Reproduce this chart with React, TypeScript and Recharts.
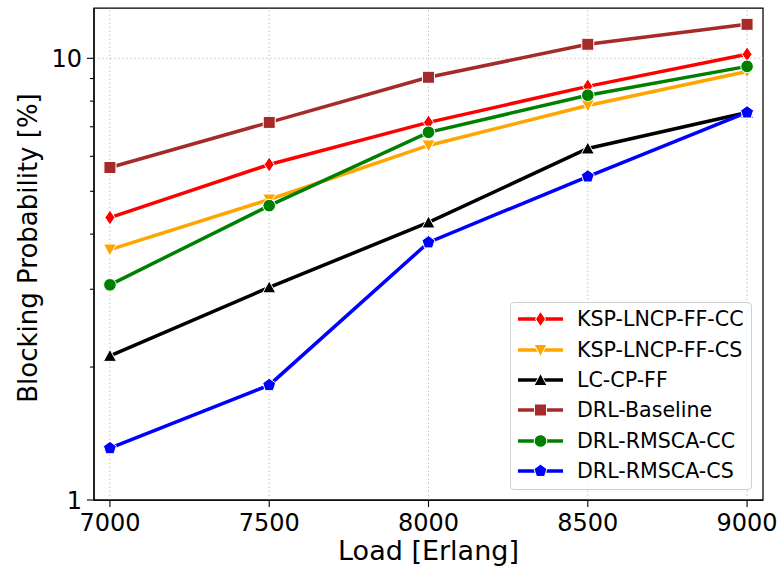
import { LineChart, Line, XAxis, YAxis, ReferenceLine, ReferenceArea, Label } from 'recharts';

const loads = [7000, 7500, 8000, 8500, 9000];
const kspLncpCC = [4.36, 5.75, 7.16, 8.64, 10.21];
const kspLncpCS = [3.69, 4.79, 6.35, 7.82, 9.34];
const lcCpFF = [2.12, 3.03, 4.25, 6.25, 7.54];
const drlBaseline = [5.66, 7.16, 9.06, 10.76, 11.94];
const drlRmscaCC = [3.07, 4.64, 6.8, 8.25, 9.59];
const drlRmscaCS = [1.31, 1.82, 3.83, 5.4, 7.54];

const yTicks = [1, 2, 3, 4, 5, 6, 7, 8, 9, 10];

const series = [
  { key: 'kspCC', name: 'KSP-LNCP-FF-CC', values: kspLncpCC, color: '#ff0000', marker: 'diamond' },
  { key: 'kspCS', name: 'KSP-LNCP-FF-CS', values: kspLncpCS, color: '#ffa500', marker: 'triDown' },
  { key: 'lc', name: 'LC-CP-FF', values: lcCpFF, color: '#000000', marker: 'triUp' },
  { key: 'base', name: 'DRL-Baseline', values: drlBaseline, color: '#a52a2a', marker: 'square' },
  { key: 'rmCC', name: 'DRL-RMSCA-CC', values: drlRmscaCC, color: '#008000', marker: 'circle' },
  { key: 'rmCS', name: 'DRL-RMSCA-CS', values: drlRmscaCS, color: '#0000ff', marker: 'pentagon' },
];

const data = loads.map((load, i) => {
  const row: any = { load };
  series.forEach((s) => { row[s.key] = s.values[i]; });
  return row;
});

const FONT = '"DejaVu Sans", sans-serif';

const Marker = ({ kind, cx, cy, color }: any) => {
  const common = { fill: color, stroke: '#ffffff', strokeWidth: 1 };
  if (cx == null || cy == null) return null;
  switch (kind) {
    case 'diamond':
      return <polygon {...common} points={`${cx},${cy - 7.5} ${cx + 5},${cy} ${cx},${cy + 7.5} ${cx - 5},${cy}`} />;
    case 'triDown':
      return <polygon {...common} points={`${cx - 6.5},${cy - 5.5} ${cx + 6.5},${cy - 5.5} ${cx},${cy + 6.5}`} />;
    case 'triUp':
      return <polygon {...common} points={`${cx},${cy - 6.5} ${cx + 6.5},${cy + 5.5} ${cx - 6.5},${cy + 5.5}`} />;
    case 'square':
      return <rect {...common} x={cx - 6} y={cy - 6} width={12} height={12} />;
    case 'circle':
      return <circle {...common} cx={cx} cy={cy} r={6.3} />;
    default: {
      const pts = [0, 1, 2, 3, 4]
        .map((k) => {
          const a = -Math.PI / 2 + (k * 2 * Math.PI) / 5;
          return `${cx + 6.8 * Math.cos(a)},${cy + 6.8 * Math.sin(a)}`;
        })
        .join(' ');
      return <polygon {...common} points={pts} />;
    }
  }
};

const YTick = (props: any) => {
  const { x, y, payload } = props;
  const v = payload.value;
  const major = v === 1 || v === 10;
  const len = major ? 7 : 4;
  return (
    <g>
      <line x1={x - len} x2={x} y1={y} y2={y} stroke="#000" strokeWidth={1.1} />
      {major && (
        <text x={x - 12} y={y} dy="0.36em" textAnchor="end" fontSize={24} fill="#000" fontFamily={FONT}>
          {v}
        </text>
      )}
    </g>
  );
};

export default function App() {
  return (
    <div style={{ position: 'absolute', left: 0, top: 0, width: 777, height: 568, background: '#fff' }}>
      <LineChart
        width={777}
        height={568}
        data={data}
        margin={{ top: 8, right: 14, bottom: 0, left: 0 }}
        style={{ fontFamily: FONT }}
      >
        {loads.map((l) => (
          <ReferenceLine key={l} x={l} stroke="#c4c4c4" strokeWidth={1} strokeDasharray="1.5 2.5" />
        ))}
        <ReferenceLine y={10} stroke="#c4c4c4" strokeWidth={1} strokeDasharray="1.5 2.5" />
        <XAxis
          dataKey="load"
          type="number"
          domain={[6950, 9050]}
          ticks={loads}
          allowDataOverflow
          height={68}
          tickSize={7}
          tickMargin={7}
          interval={0}
          axisLine={{ stroke: '#000', strokeWidth: 1.25 }}
          tickLine={{ stroke: '#000', strokeWidth: 1.1 }}
          tick={{ fill: '#000', fontSize: 24, fontFamily: FONT }}
        >
          <Label
            content={() => (
              <text x={428.5} y={560} textAnchor="middle" fontSize={27} fill="#000" fontFamily={FONT}>
                Load [Erlang]
              </text>
            )}
          />
        </XAxis>
        <YAxis
          scale="log"
          type="number"
          domain={[1, 13]}
          ticks={yTicks}
          allowDataOverflow
          width={94}
          tickSize={0}
          tickMargin={0}
          interval={0}
          axisLine={{ stroke: '#000', strokeWidth: 1.25 }}
          tickLine={false}
          tick={<YTick />}
        >
          <Label
            content={() => (
              <text
                x={37}
                y={248}
                transform="rotate(-90, 37, 248)"
                textAnchor="middle"
                fontSize={26}
                fill="#000"
                fontFamily={FONT}
              >
                Blocking Probability [%]
              </text>
            )}
          />
        </YAxis>
        <ReferenceArea x1={6950} x2={9050} y1={1} y2={13} fill="none" stroke="#000" strokeWidth={1.25} />
        {series.map((s) => (
          <Line
            key={s.key}
            dataKey={s.key}
            name={s.name}
            stroke={s.color}
            strokeWidth={3.5}
            isAnimationActive={false}
            dot={(p: any) => <Marker key={`${s.key}-${p.index}`} kind={s.marker} cx={p.cx} cy={p.cy} color={s.color} />}
            activeDot={false}
          />
        ))}
      </LineChart>
      <div
        style={{
          position: 'absolute',
          left: 510,
          top: 302,
          width: 242,
          height: 188,
          border: '1px solid #d0d0d0',
          borderRadius: 4,
          background: 'rgba(255,255,255,0.8)',
          fontFamily: FONT,
          fontSize: 20.6,
          paddingTop: 1,
          boxSizing: 'border-box',
        }}
      >
        {series.map((s) => (
          <div key={s.key} style={{ display: 'flex', alignItems: 'center', height: 30.4 }}>
            <svg width={60} height={20} style={{ marginLeft: 4, flex: 'none' }}>
              <line x1={3} x2={48} y1={10} y2={10} stroke={s.color} strokeWidth={3.5} />
              <Marker kind={s.marker} cx={25.5} cy={10} color={s.color} />
            </svg>
            <span style={{ marginLeft: 2, color: '#000', whiteSpace: 'nowrap' }}>{s.name}</span>
          </div>
        ))}
      </div>
    </div>
  );
}
